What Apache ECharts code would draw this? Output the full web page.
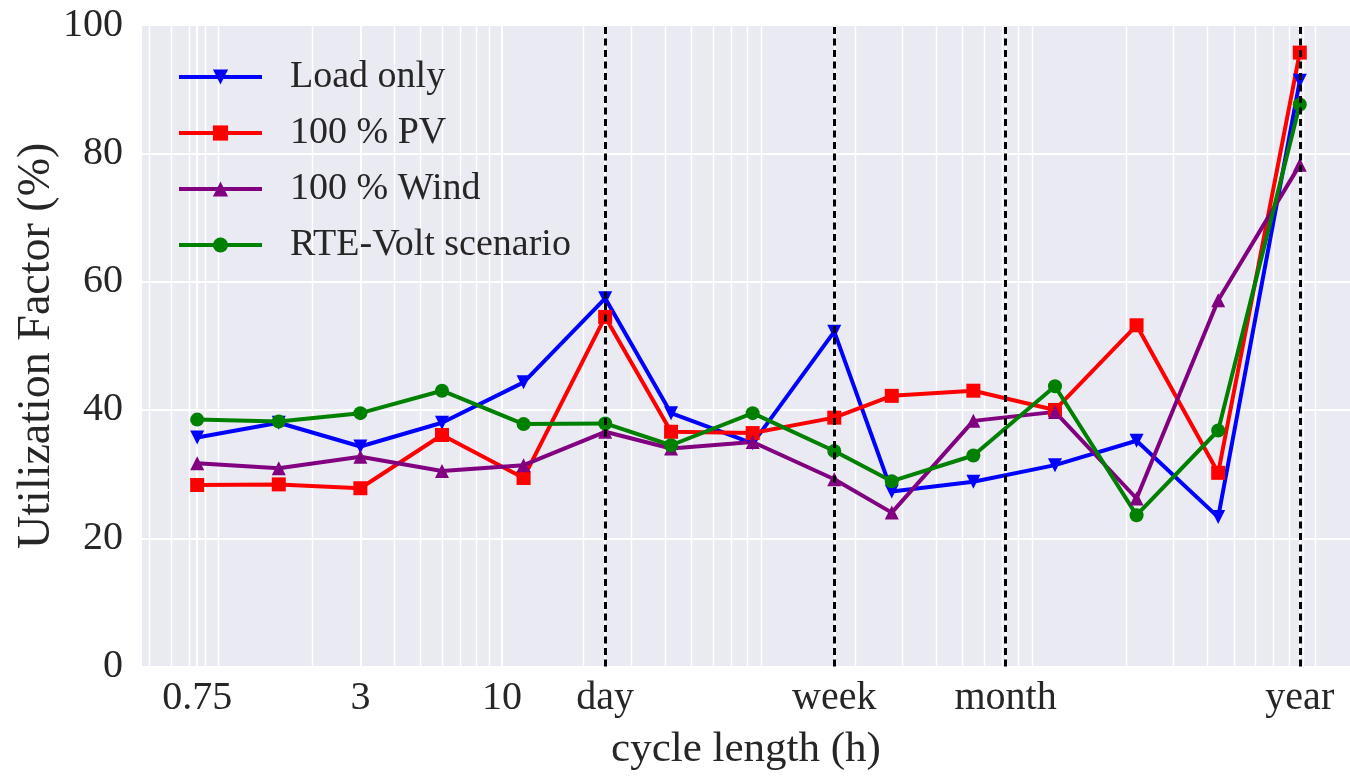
<!DOCTYPE html>
<html>
<head>
<meta charset="utf-8">
<title>Utilization factor vs cycle length</title>
<script src="https://cdn.jsdelivr.net/npm/echarts@6/dist/echarts.min.js"></script>
<style>
  html, body { margin: 0; padding: 0; background: #ffffff; }
  #chart { width: 1350px; height: 776px; }
</style>
</head>
<body>
<div id="chart"></div>
<script>
// Cycle lengths in hours: day/32 ... day, week/4 ... week, year/32 ... year
const cycleHours = [0.75, 1.5, 3, 6, 12, 24, 42, 84, 168, 273.75, 547.5, 1095, 2190, 4380, 8760];

// Utilization factor (%) per scenario
const loadOnly = [35.7, 38.0, 34.3, 38.0, 44.3, 57.4, 39.5, 34.8, 52.2, 27.3, 28.8, 31.4, 35.2, 23.3, 91.3];
const pv100    = [28.3, 28.4, 27.8, 36.1, 29.4, 54.5, 36.6, 36.4, 38.8, 42.2, 43.0, 40.0, 53.2, 30.2, 95.7];
const wind100  = [31.7, 30.9, 32.7, 30.5, 31.4, 36.6, 34.0, 35.0, 29.2, 24.0, 38.3, 39.7, 26.2, 57.1, 78.2];
const rteVolt  = [38.5, 38.2, 39.5, 43.0, 37.8, 37.9, 34.5, 39.5, 33.6, 28.9, 32.9, 43.7, 23.6, 36.8, 87.6];

// Labelled x ticks (hours) and their text
const tickValues = [0.75, 3, 10, 24, 168, 720, 8760];
const tickLabels = ['0.75', '3', '10', 'day', 'week', 'month', 'year'];

// Reference periods drawn as dashed verticals
const periodMarks = [24, 168, 720, 8760];

const X_MIN = 0.4694;
const X_MAX = 13420;

// Minor log gridlines: 2..9 x 10^n inside the axis range, skipping labelled ticks
const minorGrid = [];
for (let e = -1; e <= 3; e++) {
  for (let k = 2; k <= 9; k++) {
    const v = +(k * Math.pow(10, e)).toPrecision(6);
    if (v >= X_MIN && v <= X_MAX && tickValues.indexOf(v) < 0) minorGrid.push(v);
  }
}
minorGrid.push(10000);

const FONT = "'Liberation Serif', 'Times New Roman', serif";
const TEXT = '#262626';

function scenario(name, values, color, symbol, rotate) {
  return {
    name: name,
    type: 'line',
    data: cycleHours.map((h, i) => [h, values[i]]),
    symbol: symbol,
    symbolSize: 14,
    symbolRotate: rotate || 0,
    showAllSymbol: true,
    lineStyle: { color: color, width: 4 },
    itemStyle: { color: color },
    z: 3,
    emphasis: { disabled: true },
    animation: false
  };
}

function guideSeries(name, values, markLine) {
  return {
    name: name,
    type: 'line',
    data: [],
    silent: true,
    animation: false,
    markLine: Object.assign({
      silent: true,
      animation: false,
      symbol: ['none', 'none'],
      data: values.map(v => ({ xAxis: v }))
    }, markLine)
  };
}

const chart = echarts.init(document.getElementById('chart'), null, { renderer: 'canvas' });

chart.setOption({
  animation: false,
  backgroundColor: '#ffffff',
  grid: {
    left: 142, right: 0, top: 25, bottom: 109.4,
    containLabel: false,
    outerBoundsMode: 'none',
    show: true, backgroundColor: '#EAEAF2', borderWidth: 0
  },
  legend: {
    data: ['Load only', '100 % PV', '100 % Wind', 'RTE-Volt scenario'],
    orient: 'vertical',
    left: 177, top: 55,
    padding: 0,
    itemWidth: 83, itemHeight: 19, itemGap: 12,
    selectedMode: false,
    lineStyle: { width: 4 },
    textStyle: {
      fontFamily: FONT, fontSize: 38, color: TEXT,
      lineHeight: 44, padding: [0, 0, 0, 23]
    }
  },
  xAxis: {
    type: 'log',
    logBase: 10,
    min: X_MIN,
    max: X_MAX,
    name: 'cycle length (h)',
    nameLocation: 'middle',
    nameGap: 62,
    nameMoveOverlap: false,
    nameTextStyle: { fontFamily: FONT, fontSize: 43, color: TEXT },
    axisLine: { show: false },
    axisTick: { show: false },
    axisLabel: { show: false },
    splitLine: { show: false }
  },
  yAxis: {
    type: 'value',
    min: 0, max: 100, interval: 20,
    name: 'Utilization Factor (%)',
    nameLocation: 'middle',
    nameGap: 82,
    nameMoveOverlap: false,
    nameTextStyle: { fontFamily: FONT, fontSize: 46, color: TEXT },
    axisLine: { show: false },
    axisTick: { show: false },
    axisLabel: { fontFamily: FONT, fontSize: 40, color: TEXT, margin: 19 },
    splitLine: { show: true, lineStyle: { color: '#ffffff', width: 2 } }
  },
  series: [
    guideSeries('minor-grid', minorGrid, {
      z: 1,
      label: { show: false },
      lineStyle: { color: '#ffffff', width: 1.4, type: 'solid' }
    }),
    guideSeries('major-grid', tickValues, {
      z: 1,
      label: {
        show: true, position: 'start', distance: 12,
        fontFamily: FONT, fontSize: 40, color: TEXT,
        formatter: p => tickLabels[tickValues.indexOf(p.value)]
      },
      lineStyle: { color: '#ffffff', width: 2, type: 'solid' }
    }),
    scenario('Load only', loadOnly, '#0000ff', 'triangle', 180),
    scenario('100 % PV', pv100, '#ff0000', 'rect'),
    scenario('100 % Wind', wind100, '#800080', 'triangle'),
    scenario('RTE-Volt scenario', rteVolt, '#008000', 'circle'),
    guideSeries('periods', periodMarks, {
      z: 6,
      label: { show: false },
      lineStyle: { color: '#000000', width: 3, type: [7, 4.5] }
    })
  ]
});
</script>
</body>
</html>
